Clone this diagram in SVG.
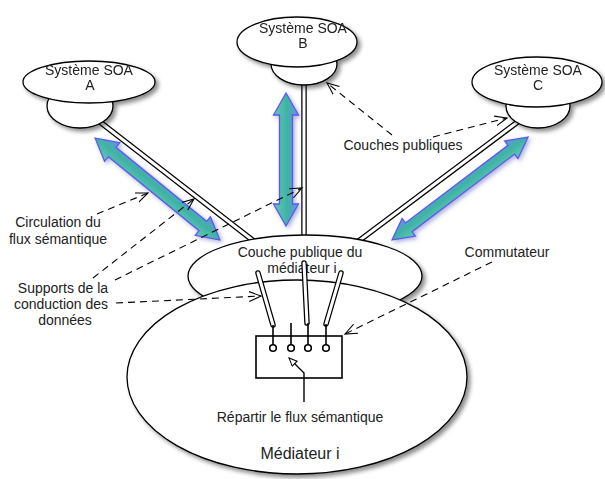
<svg xmlns="http://www.w3.org/2000/svg" width="605" height="479" viewBox="0 0 605 479">
<defs>
<style>
.t{font-family:"Liberation Sans",Arial,sans-serif;font-size:14px;fill:#222;text-anchor:middle}
.node{fill:#fff;stroke:#000;stroke-width:1.3}
.tubeo{stroke:#000;stroke-width:5.5;fill:none}
.tubei{stroke:#fff;stroke-width:3;fill:none}
.dash{stroke:#000;stroke-width:1.1;fill:none;stroke-dasharray:7 5;marker-end:url(#open)}
.barrow{fill:url(#bg);stroke:#5a5af0;stroke-width:1.3}
</style>
<marker id="open" markerWidth="14" markerHeight="12" refX="12" refY="6" orient="auto" markerUnits="userSpaceOnUse">
<path d="M0,1 L12,6 L0,11" fill="none" stroke="#000" stroke-width="1.1"/>
</marker>
<marker id="hollow" markerWidth="12" markerHeight="10" refX="9" refY="4" orient="auto" markerUnits="userSpaceOnUse">
<path d="M1,0.5 L9,4 L1,7.5 Z" fill="#fff" stroke="#000" stroke-width="1"/>
</marker>
<linearGradient id="bg" x1="0" y1="0" x2="0" y2="1">
<stop offset="0" stop-color="#6a8fe6"/>
<stop offset="0.45" stop-color="#3fb3a3"/>
<stop offset="1" stop-color="#62c9b6"/>
</linearGradient>
<filter id="sh" x="-20%" y="-20%" width="150%" height="160%">
<feDropShadow dx="3" dy="3" stdDeviation="2.2" flood-color="#000" flood-opacity="0.45"/>
</filter>
<filter id="glow" x="-20%" y="-20%" width="150%" height="150%">
<feDropShadow dx="2" dy="2" stdDeviation="2" flood-color="#6060c0" flood-opacity="0.5"/>
</filter>
</defs>
<rect width="605" height="479" fill="#fff"/>

<g id="tubes">
<line class="tubeo" x1="100" y1="122" x2="255" y2="242"/>
<line class="tubei" x1="100" y1="122" x2="255" y2="242"/>
<line class="tubeo" x1="304" y1="80" x2="304" y2="240"/>
<line class="tubei" x1="304" y1="80" x2="304" y2="240"/>
<line class="tubeo" x1="519" y1="121" x2="352" y2="246"/>
<line class="tubei" x1="519" y1="121" x2="352" y2="246"/>
</g>

<g id="soa-a" filter="url(#sh)">
<ellipse class="node" cx="80" cy="106" rx="33" ry="22"/>
<ellipse class="node" cx="89" cy="82" rx="66" ry="21"/>
<text class="t" x="89" y="75">Système SOA</text>
<text class="t" x="90" y="90">A</text>
</g>
<g id="soa-b" filter="url(#sh)">
<ellipse class="node" cx="304" cy="64" rx="33" ry="21"/>
<ellipse class="node" cx="297" cy="42" rx="60" ry="25"/>
<text class="t" x="303" y="33">Système SOA</text>
<text class="t" x="303" y="48">B</text>
</g>
<g id="soa-c" filter="url(#sh)">
<ellipse class="node" cx="538" cy="106" rx="32" ry="22"/>
<ellipse class="node" cx="537" cy="82" rx="65" ry="25"/>
<text class="t" x="538" y="75">Système SOA</text>
<text class="t" x="538" y="90">C</text>
</g>

<g id="flux-arrows">
<g filter="url(#glow)"><path class="barrow" transform="translate(157.5,189) rotate(39.2)" d="M-80.5,0 L-58.5,-12 L-58.5,-6 L58.5,-6 L58.5,-12 L80.5,0 L58.5,12 L58.5,6 L-58.5,6 L-58.5,12 Z"/></g>
<g filter="url(#glow)"><path class="barrow" transform="translate(286,159.5) rotate(90)" d="M-66.5,0 L-44.5,-12.5 L-44.5,-6.5 L44.5,-6.5 L44.5,-12.5 L66.5,0 L44.5,12.5 L44.5,6.5 L-44.5,6.5 L-44.5,12.5 Z"/></g>
<g filter="url(#glow)"><path class="barrow" transform="translate(460,188.5) rotate(-37.1)" d="M-85.3,0 L-64.3,-11 L-64.3,-5.5 L64.3,-5.5 L64.3,-11 L85.3,0 L64.3,11 L64.3,5.5 L-64.3,5.5 L-64.3,11 Z"/></g>
</g>

<g id="couche-publique" filter="url(#sh)">
<ellipse class="node" cx="305" cy="276" rx="117" ry="41"/>
</g>
<g id="mediateur">
<ellipse class="node" cx="297" cy="377" rx="170" ry="97" filter="url(#sh)"/>
<text class="t" x="300" y="257">Couche publique du</text>
<text class="t" x="302" y="273">médiateur i</text>
<g stroke-linecap="round">
<line class="tubeo" x1="258" y1="273" x2="273" y2="325"/>
<line class="tubei" x1="258" y1="273" x2="273" y2="325"/>
<line class="tubeo" x1="304" y1="263" x2="307" y2="323"/>
<line class="tubei" x1="304" y1="263" x2="307" y2="323"/>
<line class="tubeo" x1="341" y1="273" x2="326" y2="324"/>
<line class="tubei" x1="341" y1="273" x2="326" y2="324"/>
</g>
<g id="commutateur" stroke="#000" fill="none" stroke-width="1.6">
<rect x="256" y="336" width="86" height="42" fill="#fff"/>
<line x1="273" y1="325" x2="273" y2="345"/>
<line x1="291" y1="323" x2="291" y2="345"/>
<line x1="308" y1="323" x2="308" y2="345"/>
<line x1="326" y1="324" x2="326" y2="345"/>
<circle cx="273" cy="348" r="3.3" fill="#fff"/>
<circle cx="291" cy="348" r="3.3" fill="#fff"/>
<circle cx="308" cy="348" r="3.3" fill="#fff"/>
<circle cx="326" cy="348" r="3.3" fill="#fff"/>
<polyline points="304,402 304,373 289,358" stroke-width="1.4" marker-end="url(#hollow)"/>
</g>
<text class="t" x="300" y="422">Répartir le flux sémantique</text>
<text class="t" x="300" y="459" style="font-size:16px">Médiateur i</text>
</g>

<g id="connectors">
<line class="dash" x1="97" y1="214" x2="148" y2="193"/>
<line class="dash" x1="93" y1="278" x2="194" y2="199"/>
<line class="dash" x1="115" y1="280" x2="302" y2="188"/>
<line class="dash" x1="116" y1="303" x2="261" y2="296"/>
<line class="dash" x1="392" y1="135" x2="327" y2="83"/>
<line class="dash" x1="433" y1="137" x2="507" y2="118"/>
<line class="dash" x1="492" y1="262" x2="345" y2="334"/>
</g>

<g id="labels">
<text class="t" x="58" y="227">Circulation du</text>
<text class="t" x="58" y="244">flux sémantique</text>
<text class="t" x="63" y="293">Supports de la</text>
<text class="t" x="61" y="309">conduction des</text>
<text class="t" x="65" y="325">données</text>
<text class="t" x="403" y="150">Couches publiques</text>
<text class="t" x="507" y="257">Commutateur</text>
</g>
</svg>
